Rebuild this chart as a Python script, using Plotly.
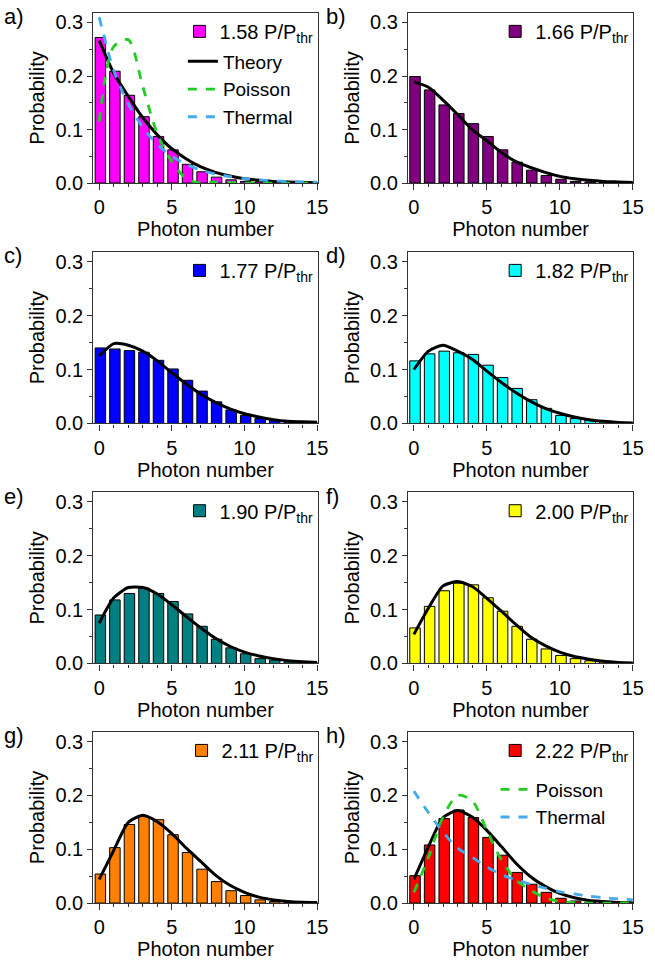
import plotly.graph_objects as go

W, H = 655, 978

photon_n = list(range(16))
x_ticks = [0, 5, 10, 15]
panel_labels = ["a)", "b)", "c)", "d)", "e)", "f)", "g)", "h)"]
power_labels = ["1.58", "1.66", "1.77", "1.82", "1.90", "2.00", "2.11", "2.22"]
bar_colors = ["#FF00FF", "#800080", "#0000FF", "#00FFFF",
              "#008080", "#FFFF00", "#FF8000", "#FF0000"]

meas_a = [0.272, 0.209, 0.164, 0.124, 0.087, 0.062, 0.035, 0.021, 0.011, 0.006, 0.003, 0.002, 0.001, 0.0006, 0.0004, 0.0003]
meas_b = [0.199, 0.174, 0.146, 0.130, 0.111, 0.087, 0.062, 0.039, 0.024, 0.014, 0.007, 0.003, 0.002, 0.001, 0.0005, 0.0003]
meas_c = [0.140, 0.138, 0.135, 0.132, 0.117, 0.101, 0.080, 0.060, 0.040, 0.025, 0.015, 0.009, 0.005, 0.003, 0.002, 0.001]
meas_d = [0.116, 0.129, 0.134, 0.131, 0.128, 0.108, 0.085, 0.065, 0.044, 0.028, 0.015, 0.009, 0.006, 0.003, 0.002, 0.001]
meas_e = [0.090, 0.118, 0.130, 0.140, 0.130, 0.115, 0.092, 0.069, 0.045, 0.029, 0.018, 0.009, 0.006, 0.003, 0.002, 0.001]
meas_f = [0.066, 0.106, 0.135, 0.149, 0.146, 0.122, 0.097, 0.069, 0.045, 0.027, 0.015, 0.009, 0.005, 0.003, 0.002, 0.001]
meas_g = [0.054, 0.103, 0.146, 0.161, 0.155, 0.127, 0.094, 0.063, 0.040, 0.023, 0.014, 0.006, 0.003, 0.002, 0.001, 0.0005]
meas_h = [0.051, 0.108, 0.157, 0.173, 0.159, 0.122, 0.089, 0.057, 0.035, 0.020, 0.009, 0.004, 0.002, 0.001, 0.0005, 0.0003]

theory_a = [0.266, 0.205, 0.162, 0.122, 0.090, 0.064, 0.045, 0.030, 0.020, 0.013, 0.008, 0.005, 0.003, 0.002, 0.001, 0.0005]
theory_b = [0.189, 0.179, 0.155, 0.128, 0.100, 0.079, 0.057, 0.040, 0.029, 0.020, 0.0125, 0.008, 0.005, 0.003, 0.002, 0.001]
theory_c = [0.125, 0.148, 0.145, 0.134, 0.116, 0.094, 0.073, 0.054, 0.039, 0.027, 0.018, 0.012, 0.007, 0.004, 0.003, 0.002]
theory_d = [0.100, 0.134, 0.145, 0.134, 0.119, 0.097, 0.076, 0.057, 0.041, 0.028, 0.019, 0.012, 0.007, 0.004, 0.002, 0.001]
theory_e = [0.075, 0.122, 0.141, 0.141, 0.129, 0.109, 0.087, 0.066, 0.047, 0.032, 0.021, 0.014, 0.009, 0.005, 0.003, 0.002]
theory_f = [0.054, 0.103, 0.144, 0.152, 0.143, 0.121, 0.097, 0.072, 0.049, 0.033, 0.021, 0.013, 0.008, 0.004, 0.002, 0.001]
theory_g = [0.044, 0.098, 0.150, 0.163, 0.151, 0.129, 0.102, 0.077, 0.052, 0.033, 0.020, 0.011, 0.006, 0.003, 0.0015, 0.001]
theory_h = [0.044, 0.105, 0.159, 0.172, 0.160, 0.135, 0.105, 0.074, 0.049, 0.031, 0.018, 0.010, 0.005, 0.003, 0.001, 0.0005]

poisson_a = [0.115, 0.255, 0.268, 0.180, 0.092, 0.040, 0.008, 0.000, 0.002, 0.001, 0.000, 0.000, 0.000, 0.000, 0.000, 0.000]
thermal_a = [0.310, 0.210, 0.148, 0.104, 0.072, 0.050, 0.035, 0.024, 0.017, 0.012, 0.008, 0.006, 0.004, 0.003, 0.002, 0.0015]
poisson_h = [0.020, 0.085, 0.160, 0.200, 0.190, 0.135, 0.080, 0.043, 0.024, 0.010, 0.003, 0.001, 0.000, 0.000, 0.000, 0.000]
thermal_h = [0.208, 0.168, 0.132, 0.102, 0.085, 0.067, 0.053, 0.043, 0.035, 0.028, 0.021, 0.017, 0.013, 0.010, 0.008, 0.006]

measured = [meas_a, meas_b, meas_c, meas_d, meas_e, meas_f, meas_g, meas_h]
theory = [theory_a, theory_b, theory_c, theory_d, theory_e, theory_f, theory_g, theory_h]

FONT = "Liberation Sans, Arial, sans-serif"
FS = 20
GREEN = "#22CC22"
BLUE = "#44AAEE"

col_px = [(95, 323), (415, 644)]
row_px = [(12, 184.3), (254, 427.7), (497.3, 670.7), (740, 913.3)]

fig = go.Figure()
layout = dict(
    width=W, height=H, margin=dict(l=0, r=0, t=0, b=0),
    paper_bgcolor="white", plot_bgcolor="white",
    font=dict(family=FONT, size=FS, color="black"),
    showlegend=True, annotations=[],
)

def legend_box(x_px, y_px, anchor, size=FS):
    return dict(
        x=x_px / W, y=1 - y_px / H, xanchor=anchor, yanchor="top",
        bgcolor="rgba(0,0,0,0)", borderwidth=0, font=dict(size=size),
        itemwidth=30, tracegroupgap=0, traceorder="normal",
    )

# separate legends for the line keys in panels a and h
layout["legend9"] = legend_box(186, 42, "left", 19)
layout["legend10"] = legend_box(504, 779, "left", 19)

for i in range(8):
    r, c = divmod(i, 2)
    sfx = "" if i == 0 else str(i + 1)
    xa, ya = "x" + sfx, "y" + sfx
    leg = "legend" + sfx
    x0, x1 = col_px[c]
    t, b = row_px[r]
    layout["xaxis" + sfx] = dict(
        domain=[x0 / W, x1 / W], anchor=ya, range=[-0.4, 15.03],
        tickmode="array", tickvals=x_ticks, ticks="outside", ticklen=6, tickwidth=1.3,
        tickcolor="#333", minor=dict(dtick=1, tick0=0, ticks="outside", ticklen=3, tickwidth=1.1, tickcolor="#333"),
        showline=True, linecolor="#333", linewidth=1.4, mirror=True,
        showgrid=False, zeroline=False,
        tickfont=dict(size=FS), title=dict(text="Photon number", font=dict(size=FS), standoff=2),
    )
    layout["yaxis" + sfx] = dict(
        domain=[1 - b / H, 1 - t / H], anchor=xa, range=[0, 0.318],
        dtick=0.1, tick0=0, tickformat=".1f", ticks="outside", ticklen=5, tickwidth=1.3,
        tickcolor="#333", minor=dict(dtick=0.05, tick0=0, ticks="outside", ticklen=3, tickwidth=1.1, tickcolor="#333"),
        showline=True, linecolor="#333", linewidth=1.4, mirror=True,
        showgrid=False, zeroline=False,
        tickfont=dict(size=FS), title=dict(text="Probability", font=dict(size=FS), standoff=5),
    )
    layout[leg] = legend_box(x1 + 1, t - 1, "right")
    layout["annotations"].append(dict(
        text=panel_labels[i], xref="paper", yref="paper",
        x=(2 if c == 0 else 330) / W, y=1 - (t + 4) / H,
        xanchor="left", yanchor="middle", showarrow=False, font=dict(size=22),
    ))

    fig.add_trace(go.Bar(
        x=photon_n, y=measured[i], width=0.72, offset=-0.28,
        marker=dict(color=bar_colors[i], line=dict(color="black", width=1)),
        name=power_labels[i] + " P/P<sub>thr</sub>",
        xaxis=xa, yaxis=ya, legend=leg, showlegend=True,
    ))
    line_leg = "legend9" if i == 0 else "legend10"
    fig.add_trace(go.Scatter(
        x=photon_n, y=theory[i], mode="lines",
        line=dict(color="black", width=3, shape="spline", smoothing=0.6),
        name="Theory", xaxis=xa, yaxis=ya, legend=line_leg, showlegend=(i == 0),
    ))
    if i in (0, 7):
        pois = poisson_a if i == 0 else poisson_h
        therm = thermal_a if i == 0 else thermal_h
        fig.add_trace(go.Scatter(
            x=photon_n, y=pois, mode="lines",
            line=dict(color=GREEN, width=2.8, dash="dash", shape="spline", smoothing=0.8),
            name="Poisson", xaxis=xa, yaxis=ya, legend=line_leg,
        ))
        fig.add_trace(go.Scatter(
            x=photon_n, y=therm, mode="lines",
            line=dict(color=BLUE, width=2.8, dash="dash", shape="spline", smoothing=0.8),
            name="Thermal", xaxis=xa, yaxis=ya, legend=line_leg,
        ))

fig.update_layout(**layout)
fig.write_html("out.html", config={"displayModeBar": False},
               post_script="document.body.style.margin='0';document.body.style.overflow='hidden';")
